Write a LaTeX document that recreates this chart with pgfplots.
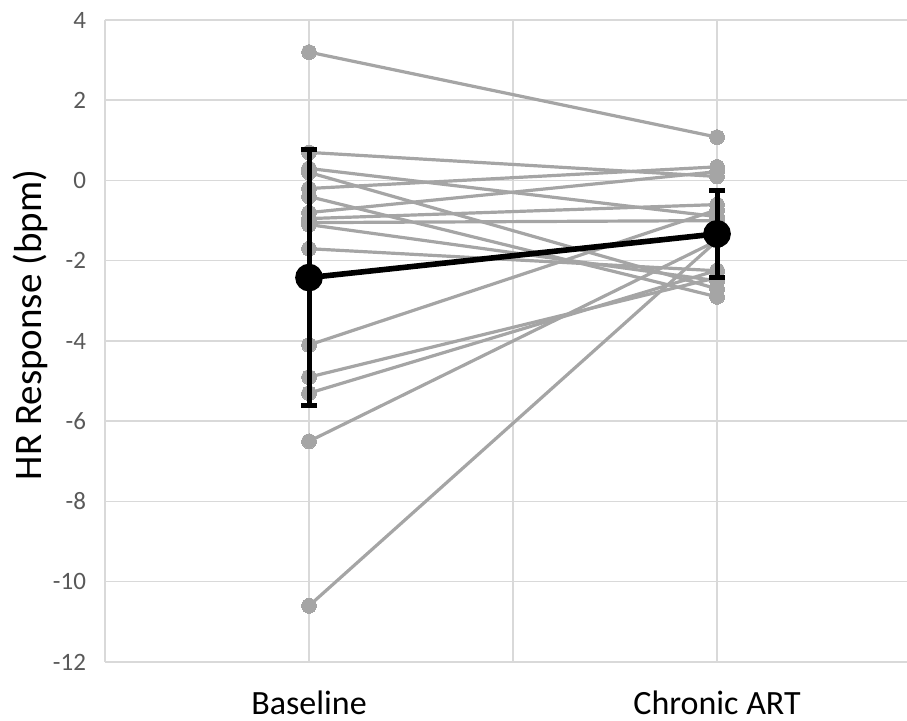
\documentclass[border=0pt]{standalone}
\usepackage{pgfplots}
\pgfplotsset{compat=1.18}
\usepackage{fontspec}
\setmainfont{Carlito}
\definecolor{linegray}{HTML}{A5A5A5}
\definecolor{gridgray}{HTML}{D9D9D9}
\definecolor{ticktext}{HTML}{595959}
\pgfplotsset{subj/.style={linegray, line width=1.6pt, mark=*, mark size=3.7pt,
  mark options={fill=linegray, draw=linegray, line width=0pt}}}

\begin{document}
\begin{tikzpicture}
\begin{axis}[
  set layers,
  scale only axis, width=401pt, height=321pt,
  xmin=0, xmax=3.931, ymin=-12, ymax=4,
  xtick={1,2,3}, xticklabels={Baseline,,Chronic ART},
  ytick={-12,-10,...,4},
  grid=major, major grid style={gridgray, line width=0.75pt},
  axis x line=bottom, axis y line=left,
  axis line style={gridgray, line width=0.75pt, -},
  major tick length=0pt,
  /pgf/number format/assume math mode=true,
  yticklabel style={font=\fontsize{12.5pt}{12.5pt}\selectfont, color=ticktext, xshift=-6pt},
  xticklabel style={font=\fontsize{17pt}{17pt}\selectfont, yshift=-11pt},
  ylabel={HR Response (bpm)},
  ylabel style={font=\fontsize{19.5pt}{19.5pt}\selectfont,
    at={(axis description cs:-0.0935,0.525)}, anchor=center},
  clip=false,
]
% individual subjects
\addplot[subj] coordinates {(1,3.2) (3,1.08)};
\addplot[subj] coordinates {(1,0.7) (3,0.1)};
\addplot[subj] coordinates {(1,0.3) (3,-0.9)};
\addplot[subj] coordinates {(1,0.2) (3,-2.7)};
\addplot[subj] coordinates {(1,-0.2) (3,0.34)};
\addplot[subj] coordinates {(1,-0.4) (3,-2.9)};
\addplot[subj] coordinates {(1,-0.8) (3,0.22)};
\addplot[subj] coordinates {(1,-0.95) (3,-0.6)};
\addplot[subj] coordinates {(1,-1.05) (3,-1.0)};
\addplot[subj] coordinates {(1,-1.1) (3,-2.5)};
\addplot[subj] coordinates {(1,-1.7) (3,-2.25)};
\addplot[subj] coordinates {(1,-4.1) (3,-0.73)};
\addplot[subj] coordinates {(1,-4.9) (3,-2.42)};
\addplot[subj] coordinates {(1,-5.3) (3,-2.24)};
\addplot[subj] coordinates {(1,-6.5) (3,-1.5)};
\addplot[subj] coordinates {(1,-10.6) (3,-1.5)};
% group mean +- SD
\addplot[on layer=axis foreground, black, line width=2.8pt, mark=*, mark size=5.5pt,
  error bars/.cd, y dir=both, y explicit,
  error bar style={line width=2.5pt, black},
  error mark options={rotate=90, mark size=4pt, line width=2.5pt}]
  coordinates {(1,-2.42) +- (0,3.2) (3,-1.33) +- (0,1.08)};
\end{axis}
\pgfresetboundingbox
\path[use as bounding box] (current axis.south west) ++(-52.5pt,-29.5pt) rectangle ++(453.5pt,360.5pt);
\end{tikzpicture}
\end{document}
